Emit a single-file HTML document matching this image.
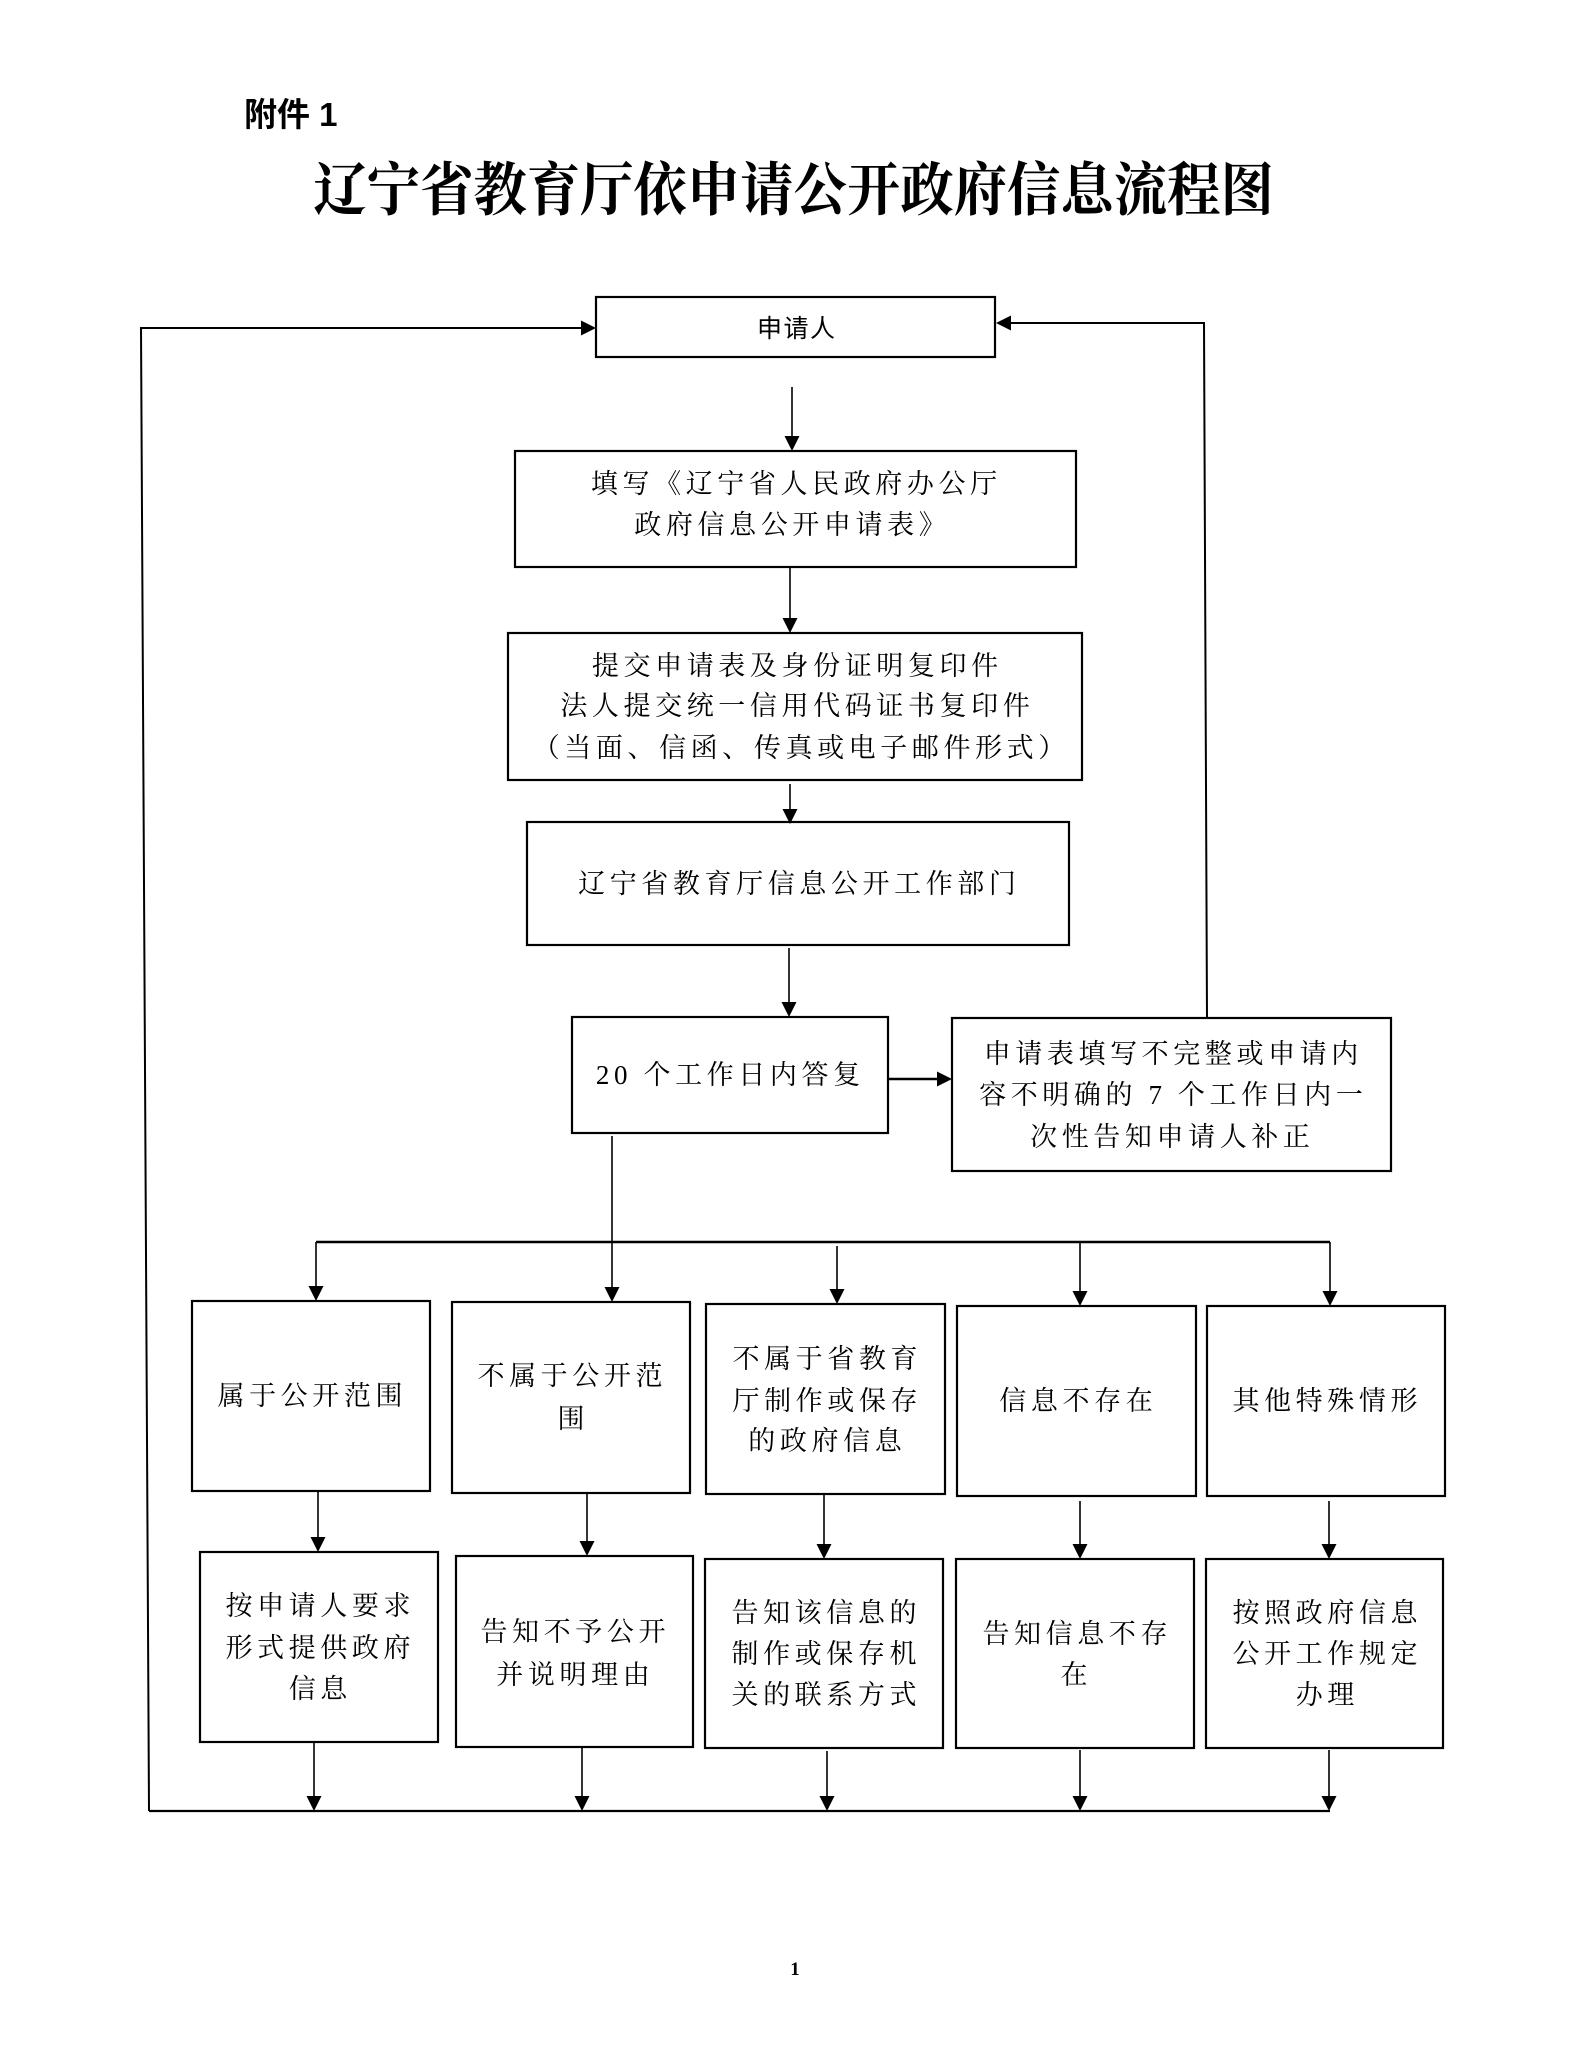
<!DOCTYPE html>
<html>
<head>
<meta charset="utf-8">
<style>
  html, body { margin:0; padding:0; background:#fff; }
  body { width:1587px; height:2070px; position:relative; overflow:hidden; }
  svg { position:absolute; left:0; top:0; }
  .t {
    position:absolute; width:600px; height:40px; line-height:40px;
    text-align:center; font-size:27px; letter-spacing:4.6px; padding-left:4.6px;
    box-sizing:border-box; white-space:nowrap; color:#000;
    font-family:"Liberation Serif","Noto Serif CJK SC",serif;
  }
  .title {
    position:absolute; left:0; top:156px; width:1587px; height:70px; line-height:70px;
    text-align:center; font-size:58px; font-weight:bold; white-space:nowrap;
    font-family:"Liberation Serif","Noto Serif CJK SC",serif;
    transform:scaleX(0.92); transform-origin:795px 35px;
  }
  .fj {
    position:absolute; left:244px; top:95px; height:40px; line-height:40px;
    font-size:33px; font-weight:bold; white-space:nowrap;
    font-family:"Liberation Sans","Noto Sans CJK SC",sans-serif;
  }
  .sq {
    position:absolute; left:496px; top:313px; width:600px; height:32px; line-height:32px;
    text-align:center; font-size:25px; letter-spacing:1.5px; padding-left:1.5px; box-sizing:border-box;
    font-family:"Liberation Sans","Noto Sans CJK SC",sans-serif;
  }
  .pn {
    position:absolute; left:745px; top:1958px; width:100px; height:24px; line-height:24px;
    text-align:center; font-size:19px; font-weight:bold;
    font-family:"Liberation Serif",serif;
  }
</style>
</head>
<body>
<svg width="1587" height="2070" viewBox="0 0 1587 2070" xmlns="http://www.w3.org/2000/svg">
  <g fill="none" stroke="#000" stroke-width="2.2">
    <!-- top flow boxes -->
    <rect x="596" y="297" width="399" height="60"/>
    <rect x="515" y="451" width="561" height="116"/>
    <rect x="508" y="633" width="574" height="147"/>
    <rect x="527" y="822" width="542" height="123"/>
    <rect x="572" y="1017" width="316" height="116"/>
    <rect x="952" y="1018" width="439" height="153"/>
    <!-- row 1 -->
    <rect x="192" y="1301" width="238" height="190"/>
    <rect x="452" y="1302" width="238" height="191"/>
    <rect x="706" y="1304" width="239" height="190"/>
    <rect x="957" y="1306" width="239" height="190"/>
    <rect x="1207" y="1306" width="238" height="190"/>
    <!-- row 2 -->
    <rect x="200" y="1552" width="238" height="190"/>
    <rect x="456" y="1556" width="237" height="191"/>
    <rect x="705" y="1559" width="238" height="189"/>
    <rect x="956" y="1559" width="238" height="189"/>
    <rect x="1206" y="1559" width="237" height="189"/>
  </g>
  <g fill="none" stroke="#000" stroke-width="1.6">
    <!-- left loop -->
    <path d="M149 1811 L141 328 L583 328" stroke-width="2"/>
    <!-- right loop -->
    <path d="M1207 1018 L1204 323 L1010 323" stroke-width="2"/>
    <!-- main flow -->
    <line x1="792" y1="387" x2="792" y2="438"/>
    <line x1="790" y1="567" x2="790" y2="620"/>
    <line x1="790" y1="784" x2="790" y2="811"/>
    <line x1="789" y1="948" x2="789" y2="1004"/>
    <line x1="889" y1="1079" x2="939" y2="1079" stroke-width="2.6"/>
    <line x1="612" y1="1136" x2="612" y2="1289"/>
    <!-- branch -->
    <line x1="316" y1="1242" x2="1330" y2="1242" stroke-width="2.5"/>
    <line x1="316" y1="1242" x2="316" y2="1288"/>
    <line x1="837" y1="1246" x2="837" y2="1291"/>
    <line x1="1080" y1="1242" x2="1080" y2="1293"/>
    <line x1="1330" y1="1242" x2="1330" y2="1293"/>
    <!-- row1 -> row2 -->
    <line x1="318" y1="1491" x2="318" y2="1539"/>
    <line x1="587" y1="1493" x2="587" y2="1543"/>
    <line x1="824" y1="1494" x2="824" y2="1546"/>
    <line x1="1080" y1="1501" x2="1080" y2="1546"/>
    <line x1="1329" y1="1501" x2="1329" y2="1546"/>
    <!-- row2 -> bottom -->
    <line x1="314" y1="1742" x2="314" y2="1798"/>
    <line x1="582" y1="1747" x2="582" y2="1798"/>
    <line x1="827" y1="1751" x2="827" y2="1798"/>
    <line x1="1080" y1="1750" x2="1080" y2="1798"/>
    <line x1="1329" y1="1750" x2="1329" y2="1798"/>
    <!-- bottom line -->
    <line x1="149" y1="1811" x2="1330" y2="1811" stroke-width="2.2"/>
  </g>
  <g fill="#000" stroke="none">
    <!-- horizontal arrowheads -->
    <polygon points="596,328 581,320.5 581,335.5"/>
    <polygon points="996,323 1011,315.5 1011,330.5"/>
    <polygon points="952,1079 937,1071.5 937,1086.5"/>
    <!-- down arrowheads -->
    <polygon points="792,451 784.5,436 799.5,436"/>
    <polygon points="790,633 782.5,618 797.5,618"/>
    <polygon points="790,824 782.5,809 797.5,809"/>
    <polygon points="789,1017 781.5,1002 796.5,1002"/>
    <polygon points="612,1302 604.5,1287 619.5,1287"/>
    <polygon points="316,1301 308.5,1286 323.5,1286"/>
    <polygon points="837,1304 829.5,1289 844.5,1289"/>
    <polygon points="1080,1306 1072.5,1291 1087.5,1291"/>
    <polygon points="1330,1306 1322.5,1291 1337.5,1291"/>
    <polygon points="318,1552 310.5,1537 325.5,1537"/>
    <polygon points="587,1556 579.5,1541 594.5,1541"/>
    <polygon points="824,1559 816.5,1544 831.5,1544"/>
    <polygon points="1080,1559 1072.5,1544 1087.5,1544"/>
    <polygon points="1329,1559 1321.5,1544 1336.5,1544"/>
    <polygon points="314,1811 306.5,1796 321.5,1796"/>
    <polygon points="582,1811 574.5,1796 589.5,1796"/>
    <polygon points="827,1811 819.5,1796 834.5,1796"/>
    <polygon points="1080,1811 1072.5,1796 1087.5,1796"/>
    <polygon points="1329,1811 1321.5,1796 1336.5,1796"/>
  </g>
</svg>

<div class="fj">附件 1</div>
<div class="title">辽宁省教育厅依申请公开政府信息流程图</div>

<div class="sq">申请人</div>

<div class="t" style="left:494px;top:464px;">填写《辽宁省人民政府办公厅</div>
<div class="t" style="left:490px;top:505px;">政府信息公开申请表》</div>

<div class="t" style="left:495px;top:646px;">提交申请表及身份证明复印件</div>
<div class="t" style="left:495px;top:686px;">法人提交统一信用代码证书复印件</div>
<div class="t" style="left:499px;top:728px;">（当面、信函、传真或电子邮件形式）</div>

<div class="t" style="left:497px;top:864px;">辽宁省教育厅信息公开工作部门</div>

<div class="t" style="left:428px;top:1055px;">20 个工作日内答复</div>

<div class="t" style="left:871px;top:1034px;">申请表填写不完整或申请内</div>
<div class="t" style="left:871px;top:1075px;">容不明确的 7 个工作日内一</div>
<div class="t" style="left:870px;top:1117px;">次性告知申请人补正</div>

<div class="t" style="left:10px;top:1376px;">属于公开范围</div>

<div class="t" style="left:270px;top:1356px;">不属于公开范</div>
<div class="t" style="left:271px;top:1399px;">围</div>

<div class="t" style="left:525px;top:1339px;">不属于省教育</div>
<div class="t" style="left:525px;top:1381px;">厅制作或保存</div>
<div class="t" style="left:525px;top:1421px;">的政府信息</div>

<div class="t" style="left:776px;top:1381px;">信息不存在</div>

<div class="t" style="left:1025px;top:1381px;">其他特殊情形</div>

<div class="t" style="left:18px;top:1586px;">按申请人要求</div>
<div class="t" style="left:18px;top:1628px;">形式提供政府</div>
<div class="t" style="left:18px;top:1669px;">信息</div>

<div class="t" style="left:273px;top:1612px;">告知不予公开</div>
<div class="t" style="left:273px;top:1655px;">并说明理由</div>

<div class="t" style="left:524px;top:1593px;">告知该信息的</div>
<div class="t" style="left:524px;top:1634px;">制作或保存机</div>
<div class="t" style="left:524px;top:1675px;">关的联系方式</div>

<div class="t" style="left:775px;top:1614px;">告知信息不存</div>
<div class="t" style="left:774px;top:1655px;">在</div>

<div class="t" style="left:1025px;top:1593px;">按照政府信息</div>
<div class="t" style="left:1025px;top:1634px;">公开工作规定</div>
<div class="t" style="left:1025px;top:1675px;">办理</div>

<div class="pn">1</div>
</body>
</html>
